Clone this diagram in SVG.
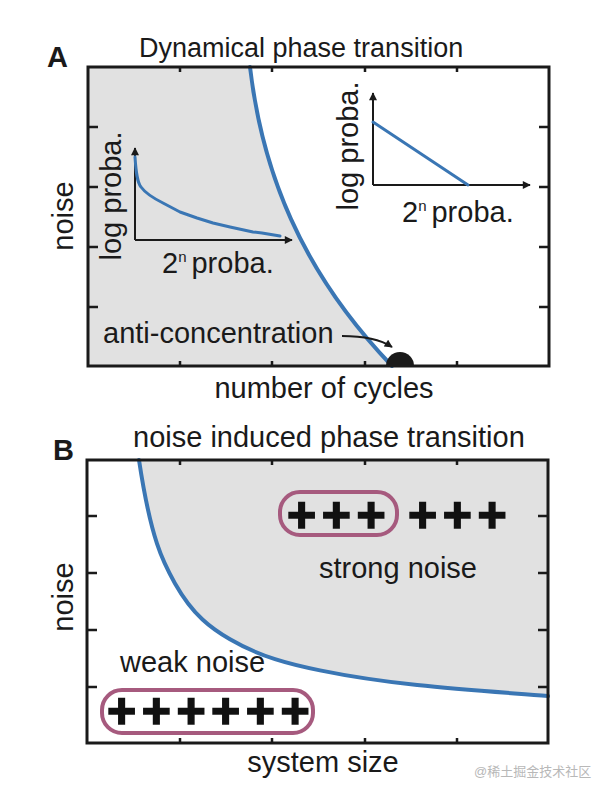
<svg xmlns="http://www.w3.org/2000/svg" width="608" height="798" viewBox="0 0 608 798">
<defs>
<style>
text{font-family:"Liberation Sans",Arial,sans-serif;fill:#1a1a1a}
.lbl{font-size:29px}
.title{font-size:28px}
.pl{font-weight:bold;font-size:29px}
.frame{fill:none;stroke:#1a1a1a;stroke-width:3}
.tick{stroke:#1a1a1a;stroke-width:2.5}
.axis{stroke:#1a1a1a;stroke-width:2;fill:none}
.blue{fill:none;stroke:#3a76b4;stroke-width:4;stroke-linecap:round;stroke-linejoin:round}
.blue2{fill:none;stroke:#3a76b4;stroke-width:3;stroke-linecap:round;stroke-linejoin:round}
.shade{fill:#e1e1e1}
.pill{fill:none;stroke:#a65a7e;stroke-width:4}
.plus{font-weight:bold;font-size:50px;letter-spacing:5.5px;stroke:#111;stroke-width:1.6;fill:#111}
</style>
<marker id="ah" viewBox="0 0 10 10" refX="9" refY="5" markerWidth="9" markerHeight="8" markerUnits="userSpaceOnUse" orient="auto">
<path d="M0,0 L10,5 L0,10 z" fill="#1a1a1a"/>
</marker>
</defs>
<rect width="608" height="798" fill="#fff"/>

<g id="panelA">
<path class="shade" d="M88,67 L250,67 C262,170 300,270 392,366 L88,366 Z"/>
<path class="blue" d="M250,67 C262,170 300,270 392,366"/>
<path d="M386,366 A14,14 0 0 1 414,366 Z" fill="#1a1a1a"/>
<rect class="frame" x="88" y="67" width="461" height="299"/>
<g class="tick">
<path d="M180,67v5M272,67v5M365,67v5M457,67v5M180,366v-5M272,366v-5M365,366v-5M457,366v-5"/>
<path d="M88,127h10M88,187h10M88,247h10M88,307h10M549,127h-10M549,187h-10M549,247h-10M549,307h-10"/>
</g>
<text x="47" y="67" class="pl">A</text>
<text x="139" y="57" style="font-size:27px">Dynamical phase transition</text>
<text x="324" y="398" class="lbl" text-anchor="middle">number of cycles</text>
<text transform="translate(73,216) rotate(-90)" class="lbl" text-anchor="middle">noise</text>
<text x="103" y="343" class="lbl">anti-concentration</text>
</g>

<g id="insetA1">
<path class="axis" d="M135,240 V148" marker-end="url(#ah)"/>
<path class="axis" d="M135,240 H292" marker-end="url(#ah)"/>
<path class="blue2" d="M135,157 C136,172 137,182 141,187 C146,194 155,199 163,203 L180,212 L197,218 L213,223 L230,227 L253,232 L262,233 L280,236"/>
<text transform="translate(121,196) rotate(-90)" class="lbl" text-anchor="middle">log proba.</text>
<text x="162" y="273" class="lbl">2<tspan font-size="15" dy="-11">n</tspan><tspan dx="5" dy="11">proba.</tspan></text>
</g>

<g id="insetA2">
<path class="axis" d="M373,185 V93" marker-end="url(#ah)"/>
<path class="axis" d="M373,185 H530" marker-end="url(#ah)"/>
<path class="blue2" d="M373,122 L468,185"/>
<text transform="translate(358,146) rotate(-90)" class="lbl" text-anchor="middle">log proba.</text>
<text x="402" y="222" class="lbl">2<tspan font-size="15" dy="-11">n</tspan><tspan dx="5" dy="11">proba.</tspan></text>
</g>

<g id="panelB">
<path class="shade" d="M139,460 C151,539.7 163,562.2 175,583.4 C193.3,615.8 211.7,628.6 230,639.3 C260,656.9 290,664.3 320,670.4 C396,686 472,690 548,696 L548,460 Z"/>
<path class="blue" d="M139,460 C151,539.7 163,562.2 175,583.4 C193.3,615.8 211.7,628.6 230,639.3 C260,656.9 290,664.3 320,670.4 C396,686 472,690 548,696"/>
<rect class="frame" x="87" y="460" width="461" height="283"/>
<g class="tick">
<path d="M180,460v5M272,460v5M365,460v5M457,460v5M180,743v-5M272,743v-5M365,743v-5M457,743v-5"/>
<path d="M87,516h10M87,573h10M87,630h10M87,687h10M548,516h-10M548,573h-10M548,630h-10M548,687h-10"/>
</g>
<text x="53" y="460" class="pl">B</text>
<text x="133" y="447" class="lbl">noise induced phase transition</text>
<text x="323" y="772" class="lbl" text-anchor="middle">system size</text>
<text transform="translate(73,597) rotate(-90)" class="lbl" text-anchor="middle">noise</text>
</g>

<g id="strong">
<rect class="pill" x="280" y="492" width="117" height="43" rx="20"/>
<text x="287" y="532" class="plus">+++</text>
<text x="408" y="532" class="plus">+++</text>
<text x="398" y="578" class="lbl" text-anchor="middle">strong noise</text>
</g>

<g id="weak">
<rect class="pill" x="102" y="690" width="211" height="43" rx="20"/>
<text x="107" y="728" class="plus">++++++</text>
<text x="120" y="672" class="lbl">weak noise</text>
</g>

<g id="connectors">
<path d="M342,336 Q375,336 392,347" fill="none" stroke="#1a1a1a" stroke-width="2" marker-end="url(#ah)"/>
</g>

<text x="474" y="776" style="font-size:13px;fill:#b8b8b8;font-family:'Liberation Sans','Noto Sans CJK SC',sans-serif">@稀土掘金技术社区</text>
</svg>
